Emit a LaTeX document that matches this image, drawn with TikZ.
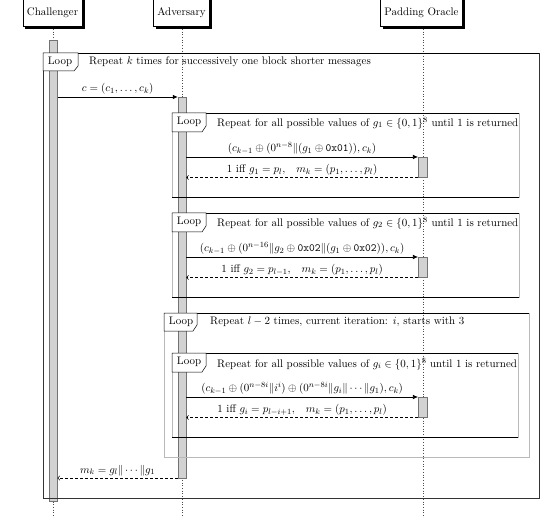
\documentclass[tikz,border=0pt]{standalone}
\usepackage{fontspec}
\usetikzlibrary{arrows.meta,shadows}
\begin{document}
\begin{tikzpicture}[x=1pt,y=-1pt,
  every node/.style={font=\fontsize{10.95}{13}\selectfont},
  head/.style={draw=black,fill=white,line width=0.5pt,inner xsep=4pt,minimum height=28.7pt,
    drop shadow={shadow xshift=2.5pt,shadow yshift=-2.5pt,fill=black,opacity=1}},
  lifeline/.style={draw=black!70,dash pattern=on 0.7pt off 2pt,line width=0.5pt},
  actbar/.style={draw=black!55,fill=gray!35,line width=0.5pt,anchor=north,inner sep=0pt},
  frameside/.style={draw=gray!55,line width=0.5pt},
  outerframe/.style={draw=black!80,line width=0.6pt},
  frameline/.style={draw=black,line width=0.7pt},
  looptag/.style={draw=black,fill=white,line width=0.5pt},
  tagtext/.style={inner sep=0pt},
  looptext/.style={anchor=west,inner sep=0pt},
  call/.style={draw=black,line width=0.6pt,-{Latex[length=5pt,width=4.5pt]}},
  ret/.style={draw=black,line width=0.5pt,dash pattern=on 3pt off 2pt,-{Straight Barb[length=2pt,width=4.5pt]}},
  msg/.style={midway,above,inner sep=2pt}
]
\useasboundingbox (0,0) rectangle (540,518);
% headers
\node[head] (ch) at (52.5,12.3) {Challenger};
\node[head] (adv) at (181.5,12.3) {Adversary};
\node[head] (or) at (421.5,12.3) {Padding Oracle};
% lifelines
\draw[lifeline] (53,29) -- (53,518);
\draw[lifeline] (182,29) -- (182,518);
\draw[lifeline] (423,29) -- (423,518);
% activation bars
\node[actbar,minimum width=8.5pt,minimum height=461pt] (chbar) at (53,40) {};
\node[actbar,minimum width=8pt,minimum height=381pt] (advbar) at (182,97) {};
\node[actbar,minimum width=9pt,minimum height=20pt] (ob1) at (422.7,157) {};
\node[actbar,minimum width=9pt,minimum height=20pt] (ob2) at (422.7,257) {};
\node[actbar,minimum width=9pt,minimum height=20pt] (ob3) at (422.7,397) {};
% outer loop
\draw[outerframe] (43,53) rectangle (539,498);
\draw[frameline] (43,53) -- (539,53);
\draw[looptag] (43,53) -- (78,53) -- (78,66) -- (74,71) -- (43,71) -- cycle;
\node[tagtext] (t0) at (60,62) {Loop};
\node[looptext] (l0) at (89,62) {Repeat $k$ times for successively one block shorter messages};
% loop 1
\draw[frameside] (172,113) rectangle (519,197);
\draw[frameline] (172,113) -- (519,113);
\draw[frameline] (172,197) -- (519,197);
\draw[looptag] (172,113) -- (206,113) -- (206,126) -- (202,132) -- (172,132) -- cycle;
\node[tagtext] (t1) at (189,122) {Loop};
\node[looptext] (l1) at (217,123) {Repeat for all possible values of $g_1\in\{0,1\}^8$ until 1 is returned};
% loop 2
\draw[frameside] (172,213) rectangle (519,297);
\draw[frameline] (172,213) -- (519,213);
\draw[frameline] (172,297) -- (519,297);
\draw[looptag] (172,213) -- (206,213) -- (206,226) -- (202,232) -- (172,232) -- cycle;
\node[tagtext] (t2) at (189,222) {Loop};
\node[looptext] (l2) at (217,223) {Repeat for all possible values of $g_2\in\{0,1\}^8$ until 1 is returned};
% loop 3
\draw[frameside] (164,313) rectangle (529,457);
\draw[frameline] (164,313) -- (529,313);
\draw[looptag] (164,313) -- (197,313) -- (197,325) -- (193,331) -- (164,331) -- cycle;
\node[tagtext] (t3) at (181,322) {Loop};
\node[looptext] (l3) at (210,322) {Repeat $l-2$ times, current iteration: $i$, starts with 3};
% loop 3 inner
\draw[frameside] (172,353) rectangle (518,437);
\draw[frameline] (172,353) -- (518,353);
\draw[frameline] (172,437) -- (518,437);
\draw[looptag] (172,353) -- (206,353) -- (206,366) -- (202,372) -- (172,372) -- cycle;
\node[tagtext] (t4) at (189,362) {Loop};
\node[looptext] (l4) at (217,364) {Repeat for all possible values of $g_i\in\{0,1\}^8$ until 1 is returned};
% messages
\coordinate (y0) at (0,97);
\draw[call] (chbar.east |- y0) -- (advbar.west |- y0) node[msg] {$c=(c_1,\dots,c_k)$};
\draw[call] (advbar.east |- ob1.north) -- (ob1.north west)
  node[msg] {$(c_{k-1}\oplus(0^{n-8}\|(g_1\oplus\texttt{0x01})),c_k)$};
\draw[ret] (ob1.south west) -- (advbar.east |- ob1.south)
  node[msg] {1 iff $g_1=p_l$,\quad $m_k=(p_1,\dots,p_l)$};
\draw[call] (advbar.east |- ob2.north) -- (ob2.north west)
  node[msg] {$(c_{k-1}\oplus(0^{n-16}\|g_2\oplus\texttt{0x02}\|(g_1\oplus\texttt{0x02})),c_k)$};
\draw[ret] (ob2.south west) -- (advbar.east |- ob2.south)
  node[msg] {1 iff $g_2=p_{l-1}$,\quad $m_k=(p_1,\dots,p_l)$};
\draw[call] (advbar.east |- ob3.north) -- (ob3.north west)
  node[msg] {$(c_{k-1}\oplus(0^{n-8i}\|i^i)\oplus(0^{n-8i}\|g_i\|\cdots\|g_1),c_k)$};
\draw[ret] (ob3.south west) -- (advbar.east |- ob3.south)
  node[msg] {1 iff $g_i=p_{l-i+1}$,\quad $m_k=(p_1,\dots,p_l)$};
\coordinate (yf) at (0,478);
\draw[ret] (advbar.west |- yf) -- (chbar.east |- yf) node[msg] {$m_k=g_l\|\cdots\|g_1$};
\end{tikzpicture}
\end{document}
